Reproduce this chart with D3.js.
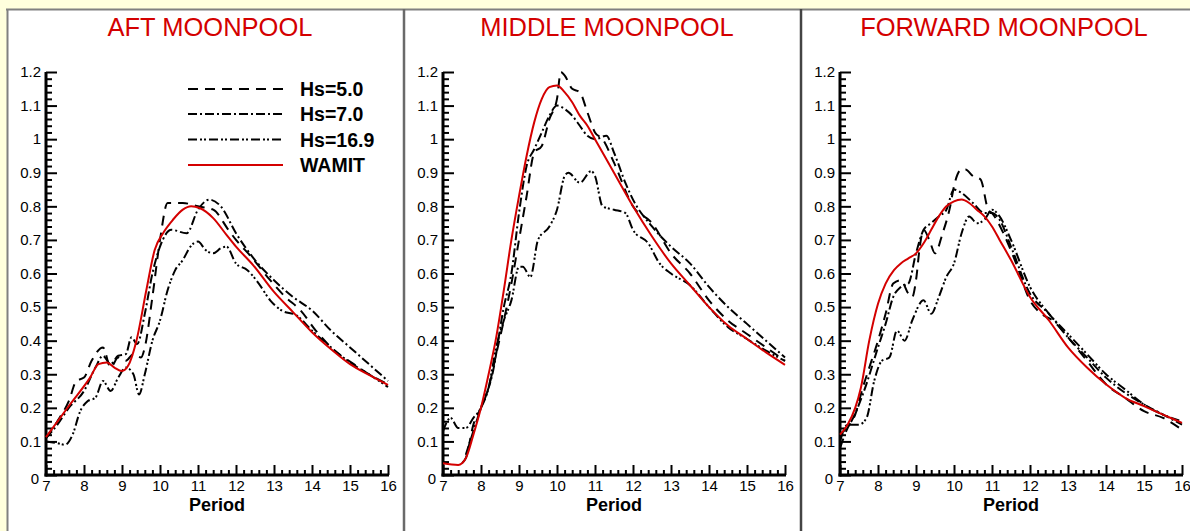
<!DOCTYPE html>
<html>
<head>
<meta charset="utf-8">
<script src="https://cdn.jsdelivr.net/npm/d3@7"></script>
<style>
  body { margin: 0; background: #ffffdd; }
  svg { display: block; font-family: Arial, "Liberation Sans", sans-serif; }
</style>
</head>
<body>
<div id="chart"></div>
<script>
// panel titles and legend names
let titles = ["AFT MOONPOOL", "MIDDLE MOONPOOL", "FORWARD MOONPOOL"];
let names = ["Hs=5.0", "Hs=7.0", "Hs=16.9", "WAMIT"];
let xTicks = [7, 8, 9, 10, 11, 12, 13, 14, 15, 16];
let yTicks = [0, 0.1, 0.2, 0.3, 0.4, 0.5, 0.6, 0.7, 0.8, 0.9, 1, 1.1, 1.2];

// [period, value]
let aftHs5 = [[7, 0.11], [7.3, 0.16], [7.6, 0.22], [7.8, 0.28], [8.0, 0.29], [8.2, 0.34], [8.5, 0.38], [8.7, 0.32],
    [8.9, 0.35], [9.1, 0.34], [9.3, 0.36], [9.5, 0.35], [9.6, 0.38], [9.8, 0.53], [10.0, 0.70], [10.2, 0.81],
    [10.6, 0.81], [11.0, 0.80], [11.4, 0.79], [11.8, 0.73], [12.0, 0.70], [12.4, 0.65], [12.9, 0.58], [13.3, 0.53],
    [13.7, 0.49], [14.1, 0.43], [14.6, 0.37], [15.1, 0.33], [15.5, 0.30], [16, 0.27]];
let aftHs7 = [[7, 0.11], [7.3, 0.15], [7.6, 0.20], [8.0, 0.25], [8.3, 0.32], [8.5, 0.355], [8.7, 0.33], [8.9, 0.355],
    [9.1, 0.36], [9.25, 0.41], [9.4, 0.39], [9.6, 0.48], [9.8, 0.60], [10.0, 0.68], [10.3, 0.73], [10.7, 0.72],
    [11.0, 0.79], [11.3, 0.82], [11.6, 0.80], [12.0, 0.72], [12.5, 0.64], [13.0, 0.58], [13.5, 0.53], [14.0, 0.49],
    [14.5, 0.43], [15.0, 0.38], [15.5, 0.33], [16, 0.28]];
let aftHs169 = [[7, 0.10], [7.3, 0.095], [7.5, 0.09], [7.7, 0.12], [7.9, 0.19], [8.1, 0.22], [8.3, 0.23], [8.5, 0.28],
    [8.7, 0.25], [8.9, 0.29], [9.1, 0.32], [9.3, 0.30], [9.45, 0.24], [9.6, 0.30], [9.8, 0.40], [10.0, 0.46],
    [10.2, 0.55], [10.4, 0.61], [10.6, 0.64], [10.8, 0.68], [11.0, 0.695], [11.2, 0.67], [11.4, 0.66], [11.6, 0.675],
    [11.75, 0.68], [12.0, 0.63], [12.3, 0.61], [12.6, 0.57], [12.9, 0.52], [13.2, 0.49], [13.6, 0.475], [14.0, 0.43],
    [14.5, 0.38], [15.0, 0.335], [15.5, 0.30], [16, 0.262]];
let aftWamit = [[7, 0.113], [7.63, 0.21], [8.16, 0.29], [8.38, 0.33], [8.6, 0.335], [8.8, 0.32], [9.0, 0.31], [9.16, 0.325],
    [9.38, 0.40], [9.64, 0.55], [9.86, 0.67], [10.08, 0.72], [10.34, 0.76], [10.6, 0.79], [10.82, 0.80], [11.04, 0.795],
    [11.4, 0.765], [11.75, 0.715], [12.0, 0.68], [12.45, 0.625], [13.0, 0.545], [13.5, 0.485], [14.0, 0.425],
    [14.55, 0.37], [15.0, 0.33], [15.55, 0.295], [16, 0.268]];

let midHs5 = [[7.5, 0.035], [7.6, 0.05], [7.8, 0.15], [8.0, 0.20], [8.2, 0.26], [8.4, 0.36], [8.6, 0.46], [8.8, 0.57],
    [9.0, 0.70], [9.2, 0.83], [9.4, 0.96], [9.6, 0.98], [9.8, 1.06], [10.0, 1.12], [10.1, 1.20], [10.2, 1.19],
    [10.4, 1.15], [10.6, 1.14], [10.8, 1.08], [11.0, 1.02], [11.2, 1.00], [11.5, 0.93], [12.0, 0.80], [12.5, 0.75],
    [13.0, 0.66], [13.5, 0.60], [14.0, 0.52], [14.5, 0.46], [15.0, 0.42], [15.5, 0.38], [16, 0.34]];
let midHs7 = [[7.6, 0.06], [8.0, 0.20], [8.3, 0.30], [8.6, 0.50], [8.8, 0.60], [9.0, 0.78], [9.2, 0.92], [9.4, 0.97],
    [9.6, 1.02], [9.8, 1.07], [10.0, 1.10], [10.2, 1.09], [10.4, 1.07], [10.6, 1.04], [10.8, 1.01], [11.0, 1.00],
    [11.3, 1.01], [11.5, 0.96], [11.8, 0.87], [12.0, 0.82], [12.5, 0.74], [13.0, 0.68], [13.5, 0.63], [14.0, 0.56],
    [14.5, 0.50], [15.0, 0.45], [15.5, 0.40], [16, 0.35]];
let midHs169 = [[7, 0.13], [7.2, 0.17], [7.4, 0.14], [7.6, 0.14], [7.8, 0.17], [8.0, 0.20], [8.2, 0.26], [8.4, 0.38],
    [8.6, 0.46], [8.8, 0.52], [9.0, 0.62], [9.1, 0.62], [9.3, 0.59], [9.5, 0.70], [9.8, 0.74], [10.0, 0.79],
    [10.2, 0.89], [10.3, 0.90], [10.6, 0.87], [10.9, 0.905], [11.0, 0.89], [11.2, 0.80], [11.5, 0.79], [11.8, 0.78],
    [12.0, 0.73], [12.4, 0.69], [12.7, 0.63], [13.0, 0.60], [13.5, 0.565], [14.0, 0.50], [14.5, 0.44], [15.0, 0.405],
    [15.5, 0.37], [16, 0.34]];
let midWamit = [[7, 0.035], [7.4, 0.03], [7.6, 0.05], [7.8, 0.12], [8.0, 0.20], [8.2, 0.30], [8.4, 0.41], [8.6, 0.55],
    [8.8, 0.70], [9.0, 0.83], [9.2, 0.95], [9.4, 1.05], [9.6, 1.12], [9.8, 1.155], [10.0, 1.16], [10.2, 1.14],
    [10.4, 1.11], [10.6, 1.07], [10.8, 1.04], [11.0, 1.00], [11.5, 0.90], [12.0, 0.80], [12.5, 0.71], [13.0, 0.63],
    [13.5, 0.565], [14.0, 0.50], [14.5, 0.445], [15.0, 0.405], [15.5, 0.365], [16, 0.328]];

let fwdHs5 = [[7, 0.08], [7.2, 0.14], [7.4, 0.18], [7.6, 0.26], [7.8, 0.33], [8.0, 0.40], [8.2, 0.48], [8.4, 0.57],
    [8.6, 0.58], [8.8, 0.54], [8.9, 0.53], [9.0, 0.58], [9.1, 0.68], [9.2, 0.73], [9.35, 0.70], [9.5, 0.66],
    [9.7, 0.72], [9.9, 0.80], [10.0, 0.86], [10.2, 0.91], [10.3, 0.91], [10.5, 0.89], [10.7, 0.88], [10.9, 0.79],
    [11.0, 0.78], [11.3, 0.72], [11.6, 0.64], [12.0, 0.52], [12.3, 0.48], [12.6, 0.46], [13.0, 0.41], [13.5, 0.34],
    [14.0, 0.27], [14.5, 0.23], [15.0, 0.19], [15.5, 0.17], [16, 0.135]];
let fwdHs7 = [[7, 0.12], [7.3, 0.16], [7.6, 0.24], [8.0, 0.38], [8.2, 0.45], [8.4, 0.53], [8.6, 0.56], [8.8, 0.57],
    [9.0, 0.66], [9.2, 0.73], [9.4, 0.75], [9.6, 0.77], [9.8, 0.79], [10.0, 0.85], [10.2, 0.84], [10.5, 0.81],
    [10.8, 0.78], [11.0, 0.78], [11.2, 0.76], [11.5, 0.68], [12.0, 0.54], [12.5, 0.48], [13.0, 0.41], [13.5, 0.35],
    [14.0, 0.29], [14.5, 0.245], [15.0, 0.21], [15.5, 0.18], [16, 0.15]];
let fwdHs169 = [[7, 0.10], [7.2, 0.15], [7.5, 0.15], [7.7, 0.17], [7.9, 0.28], [8.1, 0.34], [8.3, 0.35], [8.5, 0.43],
    [8.7, 0.40], [8.9, 0.46], [9.2, 0.52], [9.4, 0.48], [9.6, 0.53], [9.8, 0.59], [10.0, 0.63], [10.2, 0.72],
    [10.4, 0.77], [10.6, 0.75], [10.8, 0.76], [11.0, 0.79], [11.2, 0.77], [11.5, 0.70], [12.0, 0.56], [12.5, 0.48],
    [13.0, 0.42], [13.5, 0.36], [14.0, 0.30], [14.5, 0.255], [15.0, 0.21], [15.5, 0.18], [16, 0.16]];
let fwdWamit = [[7, 0.12], [7.2, 0.15], [7.4, 0.20], [7.55, 0.26], [7.77, 0.40], [8.0, 0.51], [8.2, 0.57], [8.42, 0.61],
    [8.6, 0.63], [8.8, 0.645], [9.0, 0.66], [9.2, 0.69], [9.4, 0.73], [9.6, 0.77], [9.8, 0.80], [10.0, 0.815],
    [10.2, 0.82], [10.4, 0.81], [10.6, 0.79], [10.8, 0.77], [11.0, 0.74], [11.2, 0.70], [11.5, 0.64], [12.0, 0.53],
    [12.5, 0.46], [13.0, 0.38], [13.5, 0.32], [14.0, 0.27], [14.5, 0.23], [15.0, 0.205], [15.5, 0.18], [16, 0.155]];

let panelData = [
    [aftHs5, aftHs7, aftHs169, aftWamit],
    [midHs5, midHs7, midHs169, midWamit],
    [fwdHs5, fwdHs7, fwdHs169, fwdWamit]
];

let W = 1190, H = 531;
let red = "#d40000";
let styles = [
    {color: "#000", dash: "10,7"},
    {color: "#000", dash: "9,3,2,3"},
    {color: "#000", dash: "9,3,2,2,2,3"},
    {color: red, dash: null}
];
let axisLeftX = [46, 443, 840], plotW = 342, plotTop = 72, plotBottom = 475;

let svg = d3.select("#chart").append("svg")
    .attr("width", W)
    .attr("height", H);

// white panels + borders
svg.append("rect").attr("x", 7).attr("y", 9).attr("width", W - 7).attr("height", H - 9).attr("fill", "#fff");
svg.append("line").attr("x1", 6).attr("x2", W).attr("y1", 9.5).attr("y2", 9.5)
    .attr("stroke", "#808080").attr("stroke-width", 2);
svg.append("line").attr("x1", 7.5).attr("x2", 7.5).attr("y1", 9).attr("y2", H)
    .attr("stroke", "#808080").attr("stroke-width", 2);
[404, 801].forEach((x, i) => {
    svg.append("line").attr("x1", x).attr("x2", x).attr("y1", 9).attr("y2", H)
        .attr("stroke", i === 0 ? "#6a6a6a" : "#444").attr("stroke-width", 2.5);
});

let y = d3.scaleLinear().domain([0, 1.2]).range([plotBottom, plotTop]);
let yMinor = d3.range(0, 1.2001, 0.02).filter((v) => Math.abs(v * 10 - Math.round(v * 10)) > 1e-6);
let xMinor = d3.range(7, 16.001, 0.2).filter((v) => Math.abs(v - Math.round(v)) > 1e-6);

titles.forEach((title, p) => {
    let x0 = axisLeftX[p];
    let x = d3.scaleLinear().domain([7, 16]).range([x0, x0 + plotW]);
    let g = svg.append("g");

    g.append("text")
        .attr("x", x0 + plotW / 2 - 7)
        .attr("y", 36)
        .attr("text-anchor", "middle")
        .attr("fill", red)
        .style("font-size", "25.5px")
        .text(title);

    // minor ticks
    g.append("g")
        .attr("transform", "translate(" + x0 + ",0)")
        .call(d3.axisLeft(y).tickValues(yMinor).tickSize(-6).tickFormat(""))
        .call((a) => a.select(".domain").remove());
    g.append("g")
        .attr("transform", "translate(0," + plotBottom + ")")
        .call(d3.axisBottom(x).tickValues(xMinor).tickSize(-5).tickFormat(""))
        .call((a) => a.select(".domain").remove());

    // major ticks
    let yAx = g.append("g")
        .attr("transform", "translate(" + x0 + ",0)")
        .call(d3.axisLeft(y).tickValues(yTicks).tickSize(-11).tickPadding(5).tickFormat(d3.format("~g")));
    let xAx = g.append("g")
        .attr("transform", "translate(0," + plotBottom + ")")
        .call(d3.axisBottom(x).tickValues(xTicks).tickSize(-10).tickPadding(5).tickFormat(d3.format("d")));

    [yAx, xAx].forEach((a) => {
        a.selectAll(".domain").attr("stroke-width", 3).attr("d", null);
        a.selectAll("text").style("font-size", "15px").attr("fill", "#000")
            .style("font-family", "Arial, 'Liberation Sans', sans-serif");
    });
    g.selectAll(".tick line").attr("stroke", "#000").attr("stroke-width", 2);
    yAx.select(".domain").attr("d", "M0," + (plotBottom + 1.5) + "V" + plotTop);
    xAx.select(".domain").attr("d", "M" + (x0 - 1.5) + ",0H" + (x0 + plotW + 1));
    yAx.selectAll(".tick text").filter((d) => d === 0).attr("dy", "0.55em").attr("x", -7);

    g.append("text")
        .attr("x", x0 + plotW / 2)
        .attr("y", 511)
        .attr("text-anchor", "middle")
        .style("font-size", "18px")
        .style("font-weight", "bold")
        .text("Period");

    let line = d3.line()
        .x((d) => x(d[0]))
        .y((d) => y(d[1]))
        .curve(d3.curveMonotoneX);

    panelData[p].forEach((series, i) => {
        g.append("path")
            .datum(series)
            .attr("d", line)
            .attr("fill", "none")
            .attr("stroke", styles[i].color)
            .attr("stroke-width", 2)
            .attr("stroke-dasharray", styles[i].dash);
    });
});

// legend in the first panel
let legendY = [89, 114, 139.5, 165];
names.forEach((name, i) => {
    svg.append("line")
        .attr("x1", 188).attr("x2", 283)
        .attr("y1", legendY[i]).attr("y2", legendY[i])
        .attr("stroke", styles[i].color)
        .attr("stroke-width", 2)
        .attr("stroke-dasharray", styles[i].dash);
    svg.append("text")
        .attr("x", 300)
        .attr("y", legendY[i] + 7)
        .style("font-size", "19.5px")
        .style("font-weight", "bold")
        .text(name);
});
</script>
</body>
</html>
